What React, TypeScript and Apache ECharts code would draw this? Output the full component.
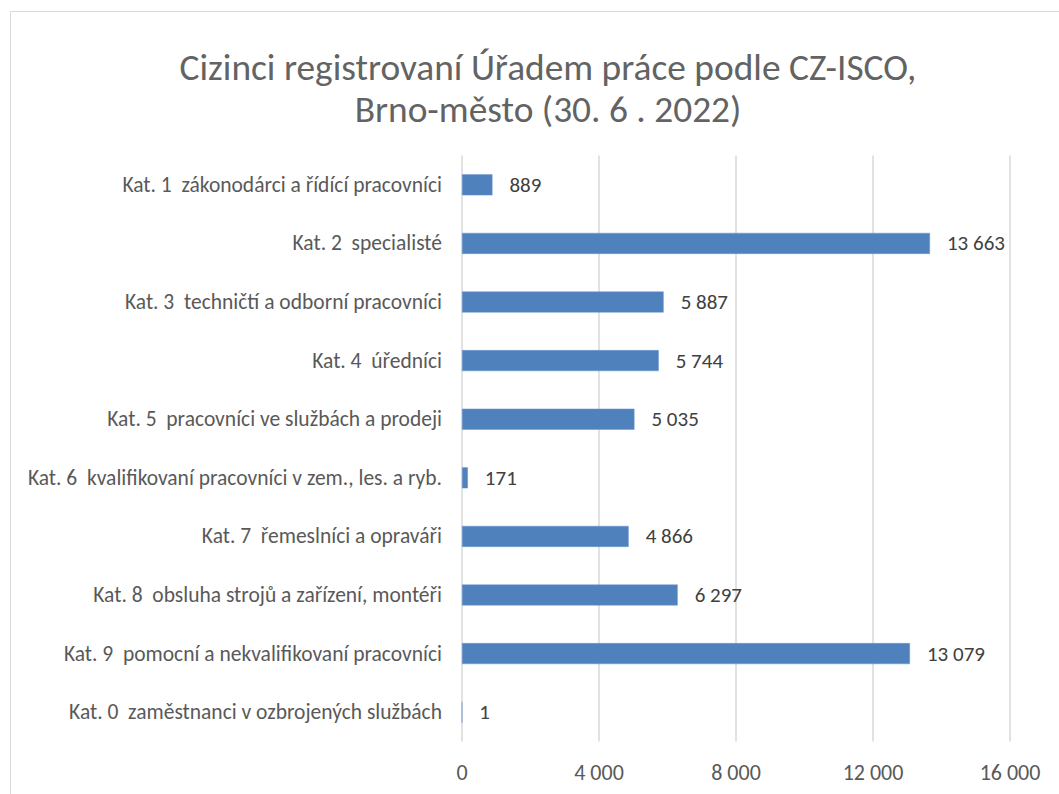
import React, { useEffect, useRef } from "react";
import * as echarts from "echarts";

const categories = [
  "Kat. 1  zákonodárci a řídící pracovníci",
  "Kat. 2  specialisté",
  "Kat. 3  techničtí a odborní pracovníci",
  "Kat. 4  úředníci",
  "Kat. 5  pracovníci ve službách a prodeji",
  "Kat. 6  kvalifikovaní pracovníci v zem., les. a ryb.",
  "Kat. 7  řemeslníci a opraváři",
  "Kat. 8  obsluha strojů a zařízení, montéři",
  "Kat. 9  pomocní a nekvalifikovaní pracovníci",
  "Kat. 0  zaměstnanci v ozbrojených službách",
];
const values = [889, 13663, 5887, 5744, 5035, 171, 4866, 6297, 13079, 1];
const titleLines = ["Cizinci registrovaní Úřadem práce podle CZ-ISCO,", "Brno-město (30. 6 . 2022)"];

const fmt = (v: number) => String(v).replace(/\B(?=(\d{3})+(?!\d))/g, " ");
const FONT = "Carlito, 'Open Sans', 'Noto Sans', sans-serif";

export default function App() {
  const ref = useRef<HTMLDivElement>(null);
  useEffect(() => {
    document.body.style.margin = "0";
    const chart = echarts.init(ref.current!, null, { renderer: "svg" });
    chart.setOption({
      animation: false,
      backgroundColor: "#ffffff",
      textStyle: { fontFamily: FONT },
      title: {
        text: titleLines.join("\n"),
        left: 543,
        top: 41,
        textAlign: "center",
        textStyle: { fontFamily: FONT, fontSize: 37.4, fontWeight: 300, color: "#636363", lineHeight: 42 },
      },
      graphic: [
        {
          type: "rect",
          shape: { x: 10.5, y: 11.5, width: 1100, height: 900 },
          style: { fill: "none", stroke: "#d9d9d9", lineWidth: 1 },
          silent: true,
        },
      ],
      grid: { left: 462, right: 49, top: 155.5, bottom: 52.5, containLabel: false },
      xAxis: {
        type: "value",
        min: 0,
        max: 16000,
        interval: 4000,
        axisLine: { show: false },
        axisTick: { show: false },
        splitLine: { show: true, lineStyle: { color: "#d9d9d9", width: 1.5 } },
        axisLabel: {
          formatter: (v: number) => fmt(v),
          color: "#595959",
          fontSize: 22,
          fontFamily: FONT,
          margin: 20,
        },
      },
      yAxis: {
        type: "category",
        data: categories,
        inverse: true,
        axisLine: { show: false },
        axisTick: { show: false },
        axisLabel: { color: "#595959", fontSize: 21.5, fontFamily: FONT, margin: 20 },
      },
      series: [
        {
          type: "bar",
          data: values,
          barWidth: 21,
          itemStyle: { color: "#4F81BD", borderColor: "#6A96CC", borderWidth: 0.5 },
          label: {
            show: true,
            position: "right",
            distance: 17,
            formatter: (p: any) => fmt(p.value),
            color: "#404040",
            fontSize: 21,
            fontFamily: FONT,
          },
        },
      ],
    });
    return () => chart.dispose();
  }, []);
  return <div ref={ref} style={{ width: 1059, height: 794 }} />;
}
